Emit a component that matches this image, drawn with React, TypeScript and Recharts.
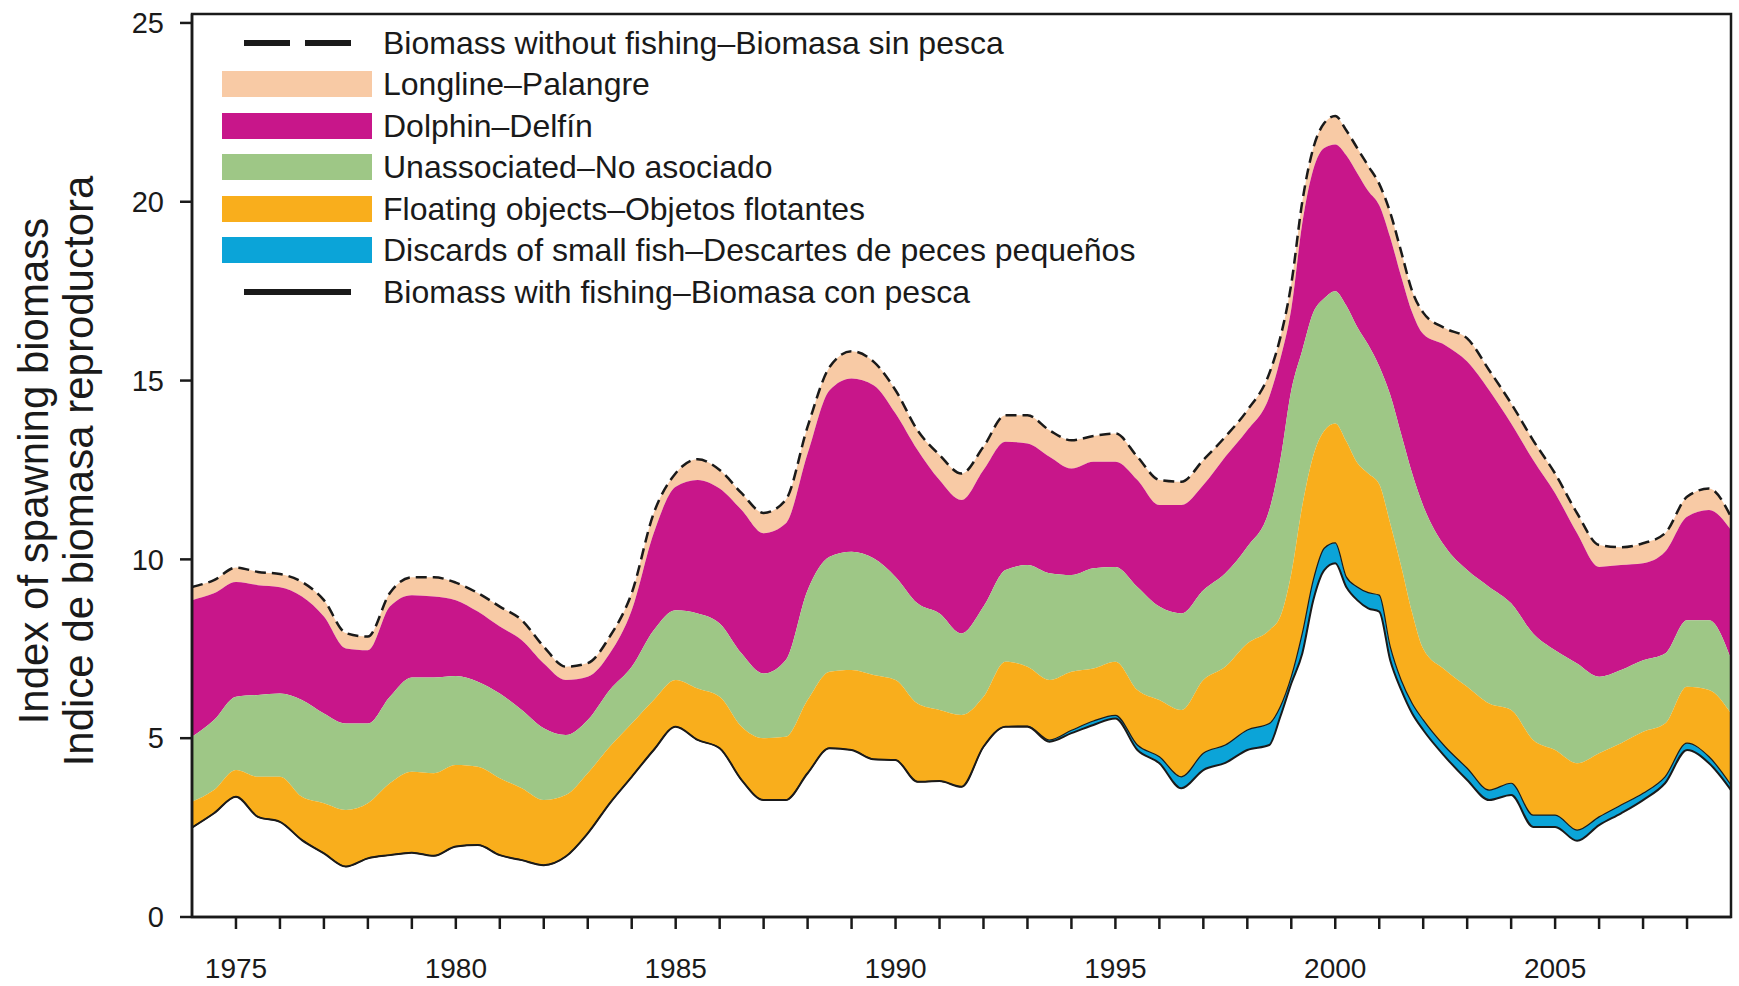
import { ComposedChart, Area, Line, XAxis, YAxis, ReferenceArea, Legend } from "recharts"

// spawning biomass index, half-yearly (quarterly around the 2000 peak)
const YEARS = [
  1974, 1974.5, 1975, 1975.5, 1976, 1976.5, 1977, 1977.5, 1978, 1978.5,
  1979, 1979.5, 1980, 1980.5, 1981, 1981.5, 1982, 1982.5, 1983, 1983.5,
  1984, 1984.5, 1985, 1985.5, 1986, 1986.5, 1987, 1987.5, 1988, 1988.5,
  1989, 1989.5, 1990, 1990.5, 1991, 1991.5, 1992, 1992.5, 1993, 1993.5,
  1994, 1994.5, 1995, 1995.5, 1996, 1996.5, 1997, 1997.5, 1998, 1998.5,
  1998.75, 1999, 1999.25, 1999.5, 1999.75, 2000, 2000.25, 2000.5, 2000.75, 2001,
  2001.25, 2001.5, 2001.75, 2002, 2002.5, 2003, 2003.5, 2004, 2004.5, 2005,
  2005.5, 2006, 2006.5, 2007, 2007.5, 2008, 2008.5, 2009,
]

// biomass with fishing (bottom of the stack)
const WITH_FISHING = [
  2.5, 2.9, 3.36, 2.8, 2.66, 2.15, 1.78, 1.41, 1.64, 1.73,
  1.8, 1.71, 1.97, 2.01, 1.73, 1.59, 1.45, 1.69, 2.34, 3.18,
  3.92, 4.67, 5.32, 4.95, 4.72, 3.83, 3.27, 3.27, 4.02, 4.72,
  4.67, 4.41, 4.39, 3.78, 3.8, 3.64, 4.76, 5.32, 5.32, 4.9,
  5.14, 5.37, 5.55, 4.67, 4.3, 3.6, 4.11, 4.31, 4.67, 4.81,
  5.6, 6.53, 7.37, 8.86, 9.7, 9.89, 9.23, 8.86, 8.63, 8.54,
  7.18, 6.35, 5.69, 5.23, 4.48, 3.83, 3.27, 3.41, 2.52, 2.52,
  2.13, 2.57, 2.9, 3.27, 3.74, 4.67, 4.3, 3.55,
]

// upper edge of each gear's band
const DISCARDS_TOP = [
  2.5, 2.9, 3.36, 2.8, 2.66, 2.15, 1.78, 1.41, 1.64, 1.73,
  1.8, 1.71, 1.97, 2.01, 1.73, 1.59, 1.45, 1.69, 2.34, 3.18,
  3.92, 4.67, 5.32, 4.95, 4.72, 3.83, 3.27, 3.27, 4.02, 4.72,
  4.67, 4.41, 4.39, 3.78, 3.8, 3.64, 4.76, 5.32, 5.34, 4.95,
  5.22, 5.48, 5.64, 4.81, 4.48, 3.92, 4.58, 4.81, 5.23, 5.41,
  5.88, 6.72, 7.93, 9.42, 10.31, 10.46, 9.51, 9.23, 9.07, 9.0,
  7.56, 6.62, 5.97, 5.51, 4.76, 4.16, 3.55, 3.74, 2.85, 2.85,
  2.43, 2.8, 3.13, 3.46, 3.92, 4.86, 4.48, 3.69,
]

const FLOATING_TOP = [
  3.22, 3.55, 4.11, 3.92, 3.92, 3.36, 3.18, 2.99, 3.18, 3.74,
  4.06, 4.02, 4.25, 4.2, 3.88, 3.6, 3.27, 3.41, 4.02, 4.76,
  5.41, 6.07, 6.63, 6.39, 6.16, 5.32, 5.0, 5.04, 6.07, 6.86,
  6.91, 6.77, 6.63, 5.97, 5.79, 5.65, 6.16, 7.14, 7.0, 6.63,
  6.86, 6.95, 7.14, 6.35, 6.07, 5.79, 6.63, 7.0, 7.65, 8.02,
  8.4, 9.6, 11.5, 12.9, 13.6, 13.8, 13.3, 12.7, 12.4, 12.1,
  11.0, 9.8, 8.5, 7.5, 6.91, 6.44, 5.97, 5.79, 4.95, 4.67,
  4.3, 4.58, 4.86, 5.18, 5.41, 6.44, 6.35, 5.69,
]

const UNASSOCIATED_TOP = [
  5.04, 5.51, 6.16, 6.21, 6.25, 6.07, 5.69, 5.41, 5.41, 6.16,
  6.7, 6.7, 6.74, 6.58, 6.25, 5.79, 5.28, 5.09, 5.51, 6.35,
  7.0, 8.02, 8.58, 8.49, 8.21, 7.37, 6.81, 7.18, 9.14, 10.07,
  10.21, 10.03, 9.51, 8.77, 8.49, 7.93, 8.68, 9.7, 9.84, 9.61,
  9.56, 9.75, 9.79, 9.23, 8.68, 8.49, 9.14, 9.61, 10.35, 11.38,
  12.78, 14.73, 15.85, 16.9, 17.3, 17.5, 17.1, 16.5, 16.0, 15.4,
  14.6, 13.5, 12.4, 11.5, 10.35, 9.7, 9.23, 8.77, 7.93, 7.46,
  7.09, 6.72, 6.91, 7.18, 7.37, 8.3, 8.3, 7.23,
]

const DOLPHIN_TOP = [
  8.86, 9.05, 9.37, 9.28, 9.22, 8.96, 8.4, 7.51, 7.46, 8.68,
  9.0, 8.96, 8.86, 8.54, 8.12, 7.74, 7.09, 6.63, 6.72, 7.37,
  8.58, 10.73, 12.03, 12.22, 11.98, 11.38, 10.73, 11.0, 12.96, 14.73,
  15.06, 14.87, 14.08, 13.06, 12.22, 11.66, 12.5, 13.29, 13.24, 12.87,
  12.54, 12.73, 12.73, 12.22, 11.52, 11.52, 12.08, 12.87, 13.61, 14.55,
  15.6, 17.0, 19.4, 20.9, 21.5, 21.6, 21.3, 20.8, 20.3, 19.9,
  19.0, 17.9, 16.9, 16.3, 15.99, 15.53, 14.73, 13.8, 12.78, 11.85,
  10.73, 9.79, 9.84, 9.89, 10.21, 11.19, 11.38, 10.82,
]

// biomass without fishing (top of the stack, longline band below it)
const WITHOUT_FISHING = [
  9.23, 9.42, 9.77, 9.65, 9.59, 9.37, 8.86, 7.94, 7.84, 9.06,
  9.5, 9.5, 9.35, 9.06, 8.68, 8.3, 7.56, 7.0, 7.1, 7.84,
  9.06, 11.29, 12.41, 12.8, 12.5, 11.85, 11.3, 11.66, 13.71, 15.38,
  15.82, 15.53, 14.73, 13.61, 12.92, 12.4, 13.15, 14.03, 14.03, 13.61,
  13.33, 13.45, 13.52, 12.87, 12.22, 12.17, 12.78, 13.43, 14.17, 15.2,
  16.2, 17.7, 20.0, 21.5, 22.2, 22.4, 22.0, 21.5, 21.0, 20.5,
  19.7, 18.6, 17.5, 16.9, 16.46, 16.18, 15.29, 14.36, 13.33, 12.4,
  11.29, 10.4, 10.34, 10.45, 10.73, 11.75, 11.98, 11.19,
]

const X_TICKS = [
  1975, 1976, 1977, 1978, 1979, 1980, 1981, 1982, 1983, 1984, 1985, 1986,
  1987, 1988, 1989, 1990, 1991, 1992, 1993, 1994, 1995, 1996, 1997, 1998,
  1999, 2000, 2001, 2002, 2003, 2004, 2005, 2006, 2007, 2008,
]
const X_LABELS = [1975, 1980, 1985, 1990, 1995, 2000, 2005]
const Y_TICKS = [0, 5, 10, 15, 20, 25]

const COLORS = {
  longline: "#F8CAA5",
  dolphin: "#C8168A",
  unassociated: "#9EC786",
  floating: "#F9AE1C",
  discards: "#0BA4D8",
}

const FONT = "'Liberation Sans', Arial, Helvetica, sans-serif"
const INK = "#1a1a1a"

const LEGEND_ITEMS = [
  { label: "Biomass without fishing–Biomasa sin pesca", kind: "dashed" },
  { label: "Longline–Palangre", kind: "box", color: COLORS.longline },
  { label: "Dolphin–Delfín", kind: "box", color: COLORS.dolphin },
  { label: "Unassociated–No asociado", kind: "box", color: COLORS.unassociated },
  { label: "Floating objects–Objetos flotantes", kind: "box", color: COLORS.floating },
  { label: "Discards of small fish–Descartes de peces pequeños", kind: "box", color: COLORS.discards },
  { label: "Biomass with fishing–Biomasa con pesca", kind: "line" },
]

const data = YEARS.map((year, i) => ({
  year,
  discards: [WITH_FISHING[i], DISCARDS_TOP[i]],
  floating: [DISCARDS_TOP[i], FLOATING_TOP[i]],
  unassociated: [FLOATING_TOP[i], UNASSOCIATED_TOP[i]],
  dolphin: [UNASSOCIATED_TOP[i], DOLPHIN_TOP[i]],
  longline: [DOLPHIN_TOP[i], WITHOUT_FISHING[i]],
  withFishing: WITH_FISHING[i],
  discardsTop: DISCARDS_TOP[i],
  withoutFishing: WITHOUT_FISHING[i],
}))

function Swatch({ kind, color }: { kind: string; color?: string }) {
  if (kind === "box") {
    return <div style={{ width: 150, height: 26, background: color }} />
  }
  return (
    <svg width={107} height={8}>
      <line
        x1={0}
        y1={4}
        x2={107}
        y2={4}
        stroke={INK}
        strokeWidth={6}
        strokeDasharray={kind === "dashed" ? "46 15" : undefined}
      />
    </svg>
  )
}

function LegendBox() {
  return (
    <div style={{ fontFamily: FONT, fontSize: 32, lineHeight: 1, color: INK }}>
      {LEGEND_ITEMS.map((item) => (
        <div key={item.label} style={{ display: "flex", alignItems: "center", height: 41.5 }}>
          <div style={{ width: 150, display: "flex", justifyContent: "center" }}>
            <Swatch kind={item.kind} color={item.color} />
          </div>
          <span style={{ marginLeft: 11, whiteSpace: "nowrap" }}>{item.label}</span>
        </div>
      ))}
    </div>
  )
}

function YTitle() {
  return (
    <g fontFamily={FONT} fontSize={42} fill={INK}>
      <text x={33} y={471} transform="rotate(-90 33 471)" textAnchor="middle" dominantBaseline="central">
        Index of spawning biomass
      </text>
      <text x={78} y={471} transform="rotate(-90 78 471)" textAnchor="middle" dominantBaseline="central">
        Indice de biomasa reproductora
      </text>
    </g>
  )
}

export default function App() {
  const axisStroke = { stroke: INK, strokeWidth: 2.5 }
  return (
    <div style={{ position: "absolute", left: 0, top: 0, background: "#fff" }}>
      <ComposedChart
        width={1739}
        height={986}
        data={data}
        margin={{ top: 14, right: 8, bottom: 0, left: 0 }}
        style={{ fontFamily: FONT }}
      >
        <XAxis
          dataKey="year"
          type="number"
          domain={[1974, 2009]}
          ticks={X_TICKS}
          interval={0}
          height={69}
          tickSize={12}
          tickMargin={29}
          axisLine={axisStroke}
          tickLine={axisStroke}
          tick={{ fontSize: 28, fill: INK }}
          tickFormatter={(v: number) => (X_LABELS.includes(v) ? String(v) : "")}
        />
        <YAxis
          type="number"
          domain={[0, 25.25]}
          ticks={Y_TICKS}
          width={192}
          tickSize={12}
          tickMargin={16}
          axisLine={axisStroke}
          tickLine={axisStroke}
          tick={{ fontSize: 29, fill: INK }}
          label={<YTitle />}
        />

        <Area type="monotone" dataKey="longline" fill={COLORS.longline} fillOpacity={1} stroke="none" isAnimationActive={false} />
        <Area type="monotone" dataKey="dolphin" fill={COLORS.dolphin} fillOpacity={1} stroke="none" isAnimationActive={false} />
        <Area type="monotone" dataKey="unassociated" fill={COLORS.unassociated} fillOpacity={1} stroke="none" isAnimationActive={false} />
        <Area type="monotone" dataKey="floating" fill={COLORS.floating} fillOpacity={1} stroke="none" isAnimationActive={false} />
        <Area type="monotone" dataKey="discards" fill={COLORS.discards} fillOpacity={1} stroke="none" isAnimationActive={false} />

        <Line type="monotone" dataKey="discardsTop" stroke={INK} strokeWidth={1.2} dot={false} isAnimationActive={false} />
        <Line type="monotone" dataKey="withFishing" stroke={INK} strokeWidth={2} dot={false} isAnimationActive={false} />
        <Line
          type="monotone"
          dataKey="withoutFishing"
          stroke={INK}
          strokeWidth={2.5}
          strokeDasharray="11 6"
          dot={false}
          isAnimationActive={false}
        />

        <ReferenceArea x1={1974} x2={2009} y1={0} y2={25.25} fill="none" stroke={INK} strokeWidth={2.5} />

        <Legend
          layout="vertical"
          align="center"
          verticalAlign="middle"
          content={() => <LegendBox />}
          wrapperStyle={{ left: 222, top: 22, width: "auto", height: "auto" }}
        />
      </ComposedChart>
    </div>
  )
}
